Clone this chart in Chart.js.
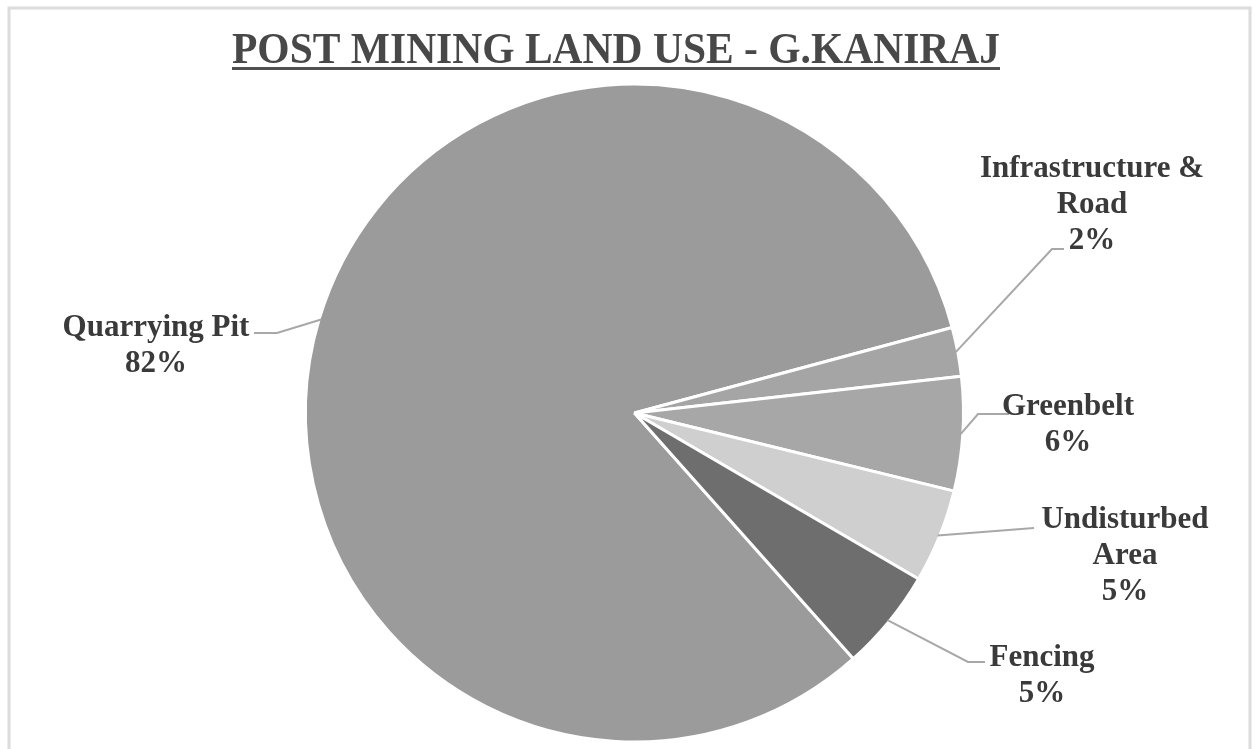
<!DOCTYPE html>
<html lang="en">
<head>
    <meta charset="UTF-8">
    <title>Post Mining Land Use</title>
    <script src="https://cdn.jsdelivr.net/npm/chart.js@4.4.0/dist/chart.umd.min.js"></script>
    <style>
        body { margin: 0; background: #fff; }
        #wrap { width: 1255px; height: 749px; position: relative; }
    </style>
</head>
<body>
    <div id="wrap">
        <canvas id="chart-land" width="1255" height="749"></canvas>
    </div>

    <script>
        // land use shares (%)
        const categories = ['Quarrying Pit', 'Infrastructure & Road', 'Greenbelt', 'Undisturbed Area', 'Fencing'];
        const shares = [82.4, 2.4, 5.6, 4.6, 5.0];
        const titleText = 'POST MINING LAND USE - G.KANIRAJ';

        const sliceColors = ['#9b9b9b', '#a5a5a5', '#a7a7a7', '#cfcfcf', '#6e6e6e'];

        // label text lines, where each label sits and how its leader line bends
        const labelLines = [
            ['Quarrying Pit'],
            ['Infrastructure &', 'Road'],
            ['Greenbelt'],
            ['Undisturbed', 'Area'],
            ['Fencing']
        ];
        const labelBox = [
            { x: 156, y: 328, lead: [[277, 333], [254, 333]] },
            { x: 1092, y: 169, lead: [[1052, 249], [1064, 249]] },
            { x: 1068, y: 407, lead: [[978, 414], [1009, 414]] },
            { x: 1125, y: 520, lead: [[1034, 528]] },
            { x: 1042, y: 658, lead: [[968, 662], [985, 662]] }
        ];
        const lineGap = 36;

        const textColor = '#3a3a3a';
        const labelFont = 'bold 31px "Liberation Serif", "Times New Roman", serif';

        const decorPlugin = {
            id: 'decor',
            beforeDraw(chart) {
                const c = chart.ctx;
                c.save();
                c.fillStyle = '#fff';
                c.fillRect(0, 0, chart.width, chart.height);
                // outer frame
                c.strokeStyle = '#dcdcdc';
                c.lineWidth = 3;
                c.beginPath();
                c.moveTo(9, chart.height + 5);
                c.lineTo(9, 8);
                c.lineTo(1250, 8);
                c.lineTo(1250, chart.height + 5);
                c.stroke();
                c.restore();
            },
            afterDraw(chart) {
                const c = chart.ctx;
                c.save();

                // title, squeezed to its width and underlined
                c.font = 'bold 44px "Liberation Serif", "Times New Roman", serif';
                const tw = c.measureText(titleText).width;
                const targetW = 768;
                c.fillStyle = '#484848';
                c.textBaseline = 'alphabetic';
                c.textAlign = 'left';
                c.save();
                c.translate(232, 63);
                c.scale(targetW / tw, 1);
                c.fillText(titleText, 0, 0);
                c.restore();
                c.fillStyle = '#505050';
                c.fillRect(232, 67, targetW, 3);

                // data labels with leader lines
                const meta = chart.getDatasetMeta(0);
                const total = shares.reduce((a, b) => a + b, 0);
                meta.data.forEach((arc, i) => {
                    const p = arc.getProps(['x', 'y', 'startAngle', 'endAngle', 'outerRadius'], true);
                    const mid = (p.startAngle + p.endAngle) / 2;
                    const ex = p.x + Math.cos(mid) * (p.outerRadius - 2);
                    const ey = p.y + Math.sin(mid) * (p.outerRadius - 2);
                    const box = labelBox[i];

                    c.strokeStyle = '#a8a8a8';
                    c.lineWidth = 2;
                    c.beginPath();
                    c.moveTo(ex, ey);
                    box.lead.forEach(pt => c.lineTo(pt[0], pt[1]));
                    c.stroke();

                    const lines = labelLines[i].concat([Math.round(shares[i] / total * 100) + '%']);
                    c.font = labelFont;
                    c.fillStyle = textColor;
                    c.textAlign = 'center';
                    c.textBaseline = 'middle';
                    lines.forEach((t, k) => c.fillText(t, box.x, box.y + k * lineGap));
                });
                c.restore();
            }
        };

        const ctx = document.getElementById('chart-land').getContext('2d');
        const landChart = new Chart(ctx, {
            type: 'pie',
            data: {
                labels: categories,
                datasets: [{
                    data: shares,
                    backgroundColor: sliceColors,
                    borderColor: '#ffffff',
                    borderWidth: 3
                }]
            },
            options: {
                responsive: false,
                animation: false,
                rotation: 138.3,
                layout: {
                    padding: { left: 304, right: 290, top: 82, bottom: 5 }
                },
                plugins: {
                    legend: { display: false },
                    tooltip: { enabled: false }
                }
            },
            plugins: [decorPlugin]
        });
    </script>
</body>
</html>
